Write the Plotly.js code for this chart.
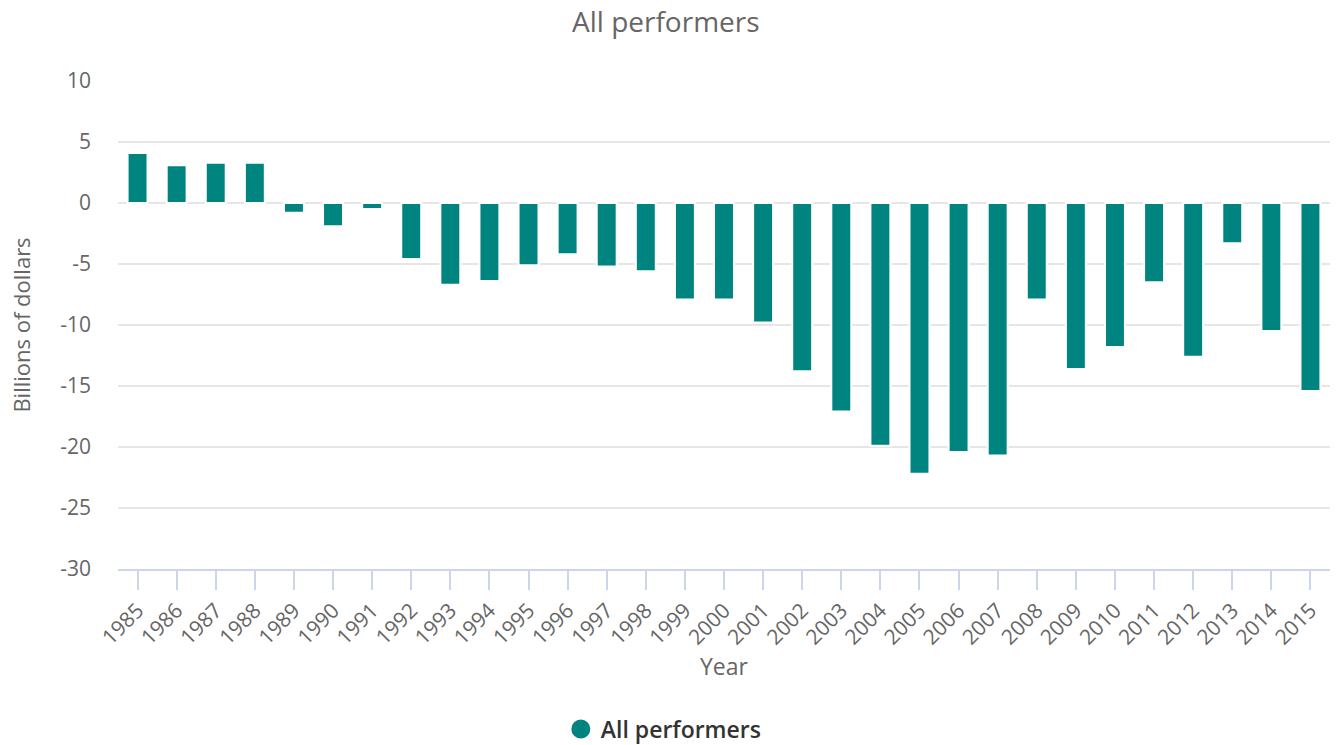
<!DOCTYPE html>
<html>
<head>
<meta charset="utf-8">
<script src="https://cdn.plot.ly/plotly-3.0.1.min.js"></script>
<style>html,body{margin:0;padding:0;background:#fff;}#chart{width:1337px;height:745px;}</style>
</head>
<body>
<div id="chart"></div>
<script>
const years = ["1985","1986","1987","1988","1989","1990","1991","1992","1993","1994","1995","1996","1997","1998","1999","2000","2001","2002","2003","2004","2005","2006","2007","2008","2009","2010","2011","2012","2013","2014","2015"];
const allPerformers = [4.1, 3.1, 3.3, 3.3, -0.8, -1.9, -0.5, -4.6, -6.7, -6.4, -5.1, -4.2, -5.2, -5.6, -7.9, -7.9, -9.8, -13.8, -17.1, -19.9, -22.2, -20.4, -20.7, -7.9, -13.6, -11.8, -6.5, -12.6, -3.3, -10.5, -15.4];
const yTickVals = [10, 5, 0, -5, -10, -15, -20, -25, -30];
const yTickText = ["10", "5", "0", "-5", "-10", "-15", "-20", "-25", "-30"];
const seriesName = "All performers";
const chartTitle = "All performers";
const xTitle = "Year";
const yTitle = "Billions of dollars";
const teal = "#00847f";

const traces = [
  {
    type: "bar",
    x: years,
    y: allPerformers,
    name: seriesName,
    showlegend: false,
    width: 0.51,
    marker: {color: teal, line: {color: "#ffffff", width: 2}},
    hoverinfo: "x+y"
  },
  {
    type: "scatter",
    mode: "markers",
    x: [null],
    y: [null],
    name: seriesName,
    showlegend: true,
    marker: {color: teal, size: 16, symbol: "circle", line: {color: teal, width: 3}}
  }
];

const layout = {
  width: 1337,
  height: 745,
  margin: {l: 118, r: 7, t: 81, b: 176},
  paper_bgcolor: "#ffffff",
  plot_bgcolor: "#ffffff",
  font: {family: "'Open Sans', sans-serif", color: "#666666"},
  title: {
    text: chartTitle,
    font: {size: 28, color: "#666666"},
    x: 0.498, xref: "container", xanchor: "center",
    y: 1 - 22/745, yref: "container", yanchor: "middle"
  },
  xaxis: {
    type: "category",
    categoryorder: "array",
    categoryarray: years,
    tickangle: -45,
    tickfont: {size: 21, color: "#666666"},
    ticks: "outside",
    ticklen: 19,
    tickwidth: 2,
    tickcolor: "#ccd6eb",
    showline: true,
    linecolor: "#ccd6eb",
    linewidth: 2,
    showgrid: false,
    zeroline: false,
    automargin: false,
    title: {text: xTitle, font: {size: 23, color: "#666666"}, standoff: 10}
  },
  yaxis: {
    range: [-30, 10],
    tickmode: "array",
    tickvals: yTickVals,
    ticktext: yTickText,
    tickfont: {size: 21, color: "#666666"},
    ticks: "",
    ticklabelstandoff: 26,
    showgrid: true,
    gridcolor: "#e6e6e6",
    gridwidth: 2,
    zeroline: false,
    showline: false,
    automargin: false,
    title: {text: yTitle, font: {size: 22, color: "#666666"}, standoff: 23}
  },
  legend: {
    orientation: "h",
    xref: "container",
    yref: "container",
    x: 0.4965,
    xanchor: "center",
    y: 1 - 729/745,
    yanchor: "middle",
    itemwidth: 30,
    font: {size: 23, color: "#333333", weight: 600}
  },
  showlegend: true
};

Plotly.newPlot("chart", traces, layout, {displayModeBar: false, responsive: false});
</script>
</body>
</html>
